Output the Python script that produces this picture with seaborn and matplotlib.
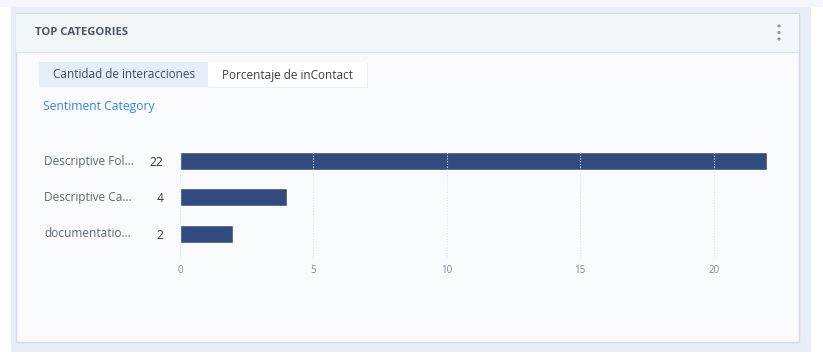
import numpy as np
import pandas as pd
import matplotlib
matplotlib.use("Agg")
import matplotlib.pyplot as plt
import matplotlib.transforms as mtransforms
from matplotlib.patches import Rectangle, Circle
import seaborn as sns

# ######################### Data #########################

CATEGORIES = ["Descriptive Fol...", "Descriptive Ca...", "documentatio..."]
COUNTS = [22, 4, 2]
X_TICKS = [0, 5, 10, 15, 20]

TITLE = "TOP CATEGORIES"
TABS = ["Cantidad de interacciones", "Porcentaje de inContact"]
SUBTITLE = "Sentiment Category"

BAR_COLOR = "#314b7e"
W, H = 823, 364

sns.set_theme(style="white")
plt.rcParams["font.family"] = ["Open Sans", "DejaVu Sans"]

fig = plt.figure(figsize=(W / 100, H / 100), dpi=100)
fig.patch.set_facecolor("white")

# ######################### Card chrome (pixel coords) #########################

bg = fig.add_axes([0, 0, 1, 1], zorder=0)
bg.set_xlim(0, W)
bg.set_ylim(H, 0)
bg.axis("off")

bg.add_patch(Rectangle((0, 0), W, 7, color="#f3f6fa", lw=0))
bg.add_patch(Rectangle((11, 7), 800, 345, color="#e7eef6", lw=0))
bg.add_patch(Rectangle((16, 13), 783, 329, facecolor="#f9fafc",
                       edgecolor="#d3dbe4", lw=1.0))
bg.add_patch(Rectangle((16.5, 13.5), 782, 38.5, facecolor="#f3f6f9", lw=0))
bg.plot([16.5, 798.5], [52, 52], color="#dde3ea", lw=1.0)

bg.text(35, 32.5, TITLE, fontsize=8.1, fontweight="bold", color="#4b5663",
        va="center", ha="left")
for cy in (26, 32.5, 39):
    bg.add_patch(Circle((779, cy), 1.6, color="#8a96a3", lw=0))

# tabs
bg.add_patch(Rectangle((209, 63), 159, 25, facecolor="#e9edf1", lw=0))
bg.add_patch(Rectangle((208, 62), 159, 25, facecolor="white", lw=0))
bg.add_patch(Rectangle((39, 62), 169, 25, facecolor="#e3eef8", lw=0))
bg.text(124, 75, TABS[0], fontsize=8.5, color="#3d4e5e",
        ha="center", va="center")
bg.text(288, 75, TABS[1], fontsize=8.5, color="#3a3f45",
        ha="center", va="center")

bg.text(43, 106.5, SUBTITLE, fontsize=8.7, color="#2f86de",
        ha="left", va="center")

# ######################### Bar chart #########################

df = pd.DataFrame({"category": CATEGORIES, "count": COUNTS})

ax_left, ax_right = 180, 767
ax_top, ax_bottom = 152, 259
ax = fig.add_axes([ax_left / W, 1 - ax_bottom / H,
                   (ax_right - ax_left) / W, (ax_bottom - ax_top) / H],
                  zorder=1)
ax.patch.set_alpha(0)

sns.barplot(data=df, x="count", y="category", orient="h",
            color=BAR_COLOR, width=0.5, saturation=1, ax=ax)

ax.set_xlim(0, max(COUNTS))
ax.set_ylim(2.70, -0.25)
ax.set_xticks(X_TICKS)
ax.set_xticklabels([str(t) for t in X_TICKS])
ax.tick_params(axis="x", length=0, pad=4, labelsize=7,
               labelcolor="#7d8a97")

ax.set_yticks(range(len(CATEGORIES)))
ax.set_yticklabels([str(c) for c in COUNTS])
ax.tick_params(axis="y", length=0, pad=12, labelsize=8.7,
               labelcolor="#34383d")
ax.set_xlabel("")
ax.set_ylabel("")

for s in ax.spines.values():
    s.set_visible(False)

ax.grid(axis="x", linestyle=(0, (1, 1.5)), color="#dfe4ea", lw=0.8)
ax.set_axisbelow(False)

trans = mtransforms.blended_transform_factory(fig.transFigure, ax.transData)
for i, name in enumerate(CATEGORIES):
    ax.text(44 / W, i, name, transform=trans, fontsize=8.6,
            color="#5f6a75", ha="left", va="center")

fig.savefig("out.png", dpi=100)
